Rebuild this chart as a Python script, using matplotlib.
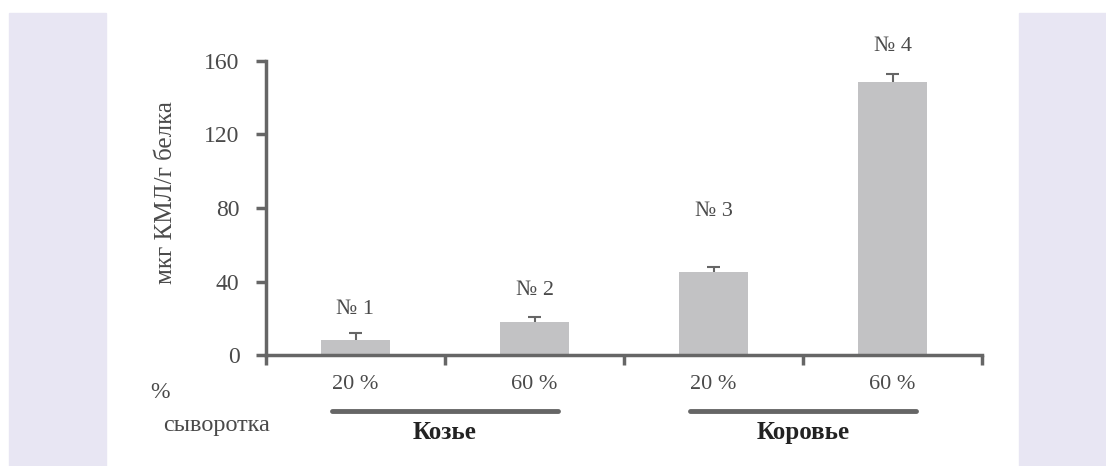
import numpy as np
import matplotlib.pyplot as plt
import matplotlib.transforms as mtransforms
from matplotlib.patches import Rectangle

# data
samples = ['№ 1', '№ 2', '№ 3', '№ 4']
serum = ['20 %', '60 %', '20 %', '60 %']
values = [8.2, 17.9, 44.9, 148.7]
errors = [3.8, 3.0, 2.8, 4.2]
label_y = [25, 35, 78, 168]
groups = ['Козье', 'Коровье']

grey = '#666666'
text_c = '#4a4a4a'
plt.rcParams['font.family'] = ['Liberation Serif', 'DejaVu Serif']

fig = plt.figure(figsize=(11.06, 4.66), dpi=100)
fig.patch.set_facecolor('white')
# lavender side panels
for x0, x1 in [(9, 106), (1019, 1106)]:
    fig.patches.append(Rectangle((x0 / 1106, 0), (x1 - x0) / 1106, 1 - 13 / 466,
                                 transform=fig.transFigure, color='#e8e6f3', zorder=0))

ax = fig.add_axes([266 / 1106, 1 - 355 / 466, 716 / 1106, 294 / 466])
ax.set_facecolor('none')
x = np.arange(len(values))
tops = np.array(values) + np.array(errors)
ax.bar(x, values, width=0.39, color='#c2c2c4', zorder=2)
# upper error bars only
ax.vlines(x, values, tops, color=grey, lw=1.5, zorder=3)
ax.hlines(tops, x - 0.035, x + 0.035, color=grey, lw=1.5, zorder=3)
for xi, yi, s in zip(x, label_y, samples):
    ax.text(xi, yi, s, ha='center', va='center', fontsize=16, color=text_c, clip_on=False)

ax.set_xlim(-0.5, 3.5)
ax.set_ylim(0, 160)
ax.set_yticks([0, 40, 80, 120, 160])
ax.tick_params(axis='y', direction='out', length=7, width=2.5, color=grey,
               labelsize=17, labelcolor=text_c, pad=12)
ax.set_xticks(np.arange(-0.5, 4, 1))
ax.set_xticklabels([])
ax.tick_params(axis='x', direction='out', length=7, width=2.5, color=grey)
for sp in ['top', 'right']:
    ax.spines[sp].set_visible(False)
for sp in ['left', 'bottom']:
    ax.spines[sp].set_color(grey)
    ax.spines[sp].set_linewidth(2.5)

trans = mtransforms.blended_transform_factory(ax.transData, ax.transAxes)
for xi, s in zip(x, serum):
    ax.text(xi, -0.1, s, transform=trans, ha='center', va='center',
            fontsize=16, color=text_c)
for gi, g in enumerate(groups):
    c = 0.5 + 2 * gi
    ax.plot([c - 0.63, c + 0.63], [-0.19, -0.19], transform=trans, color=grey,
            lw=3.5, solid_capstyle='round', clip_on=False)
    ax.text(c, -0.265, g, transform=trans, ha='center', va='center',
            fontsize=18, fontweight='bold', color='#222222')

fig.text(150 / 1106, 1 - 393 / 466, '%', ha='left', va='center', fontsize=17, color=text_c)
fig.text(217 / 1106, 1 - 425 / 466, 'сыворотка', ha='center', va='center',
         fontsize=17.5, color=text_c)
fig.text(166 / 1106, 1 - 193 / 466, 'мкг КМЛ/г белка', rotation=90,
         ha='center', va='center', fontsize=18, color=text_c)

fig.savefig('out.png', dpi=100, facecolor='white')
